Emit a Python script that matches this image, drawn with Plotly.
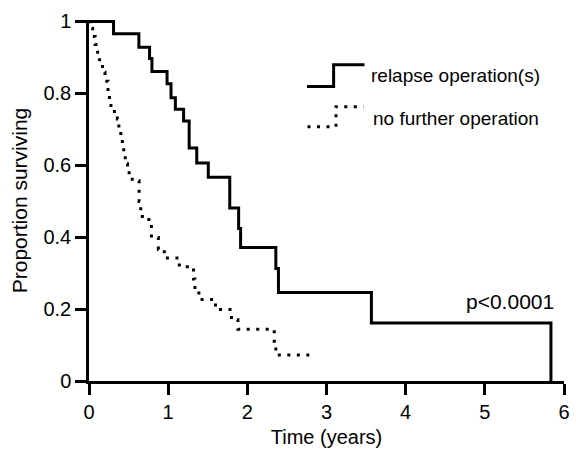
import plotly.graph_objects as go

# ---- data ----
relapse_time = [0, 0.31, 0.63, 0.765, 0.795, 0.986, 1.036, 1.091, 1.195, 1.265,
                1.361, 1.507, 1.778, 1.89, 1.915, 2.36, 2.393, 3.567, 5.835]
relapse_surv = [1.0, 0.966, 0.928, 0.897, 0.861, 0.827, 0.788, 0.756, 0.723, 0.648,
                0.606, 0.567, 0.481, 0.424, 0.371, 0.313, 0.246, 0.161, 0.0]

nofurther_time = [0, 0.015, 0.046, 0.077, 0.109, 0.134, 0.171, 0.202, 0.240, 0.258,
                  0.277, 0.321, 0.358, 0.377, 0.402, 0.421, 0.439, 0.458, 0.487, 0.546,
                  0.633, 0.654, 0.674, 0.789, 0.876, 0.951, 1.141, 1.320, 1.338, 1.388,
                  1.598, 1.800, 1.881, 2.340, 2.360, 2.784]
nofurther_surv = [1.0, 0.981, 0.958, 0.936, 0.914, 0.886, 0.859, 0.834, 0.803, 0.781,
                  0.759, 0.745, 0.729, 0.704, 0.679, 0.654, 0.626, 0.604, 0.579, 0.557,
                  0.499, 0.472, 0.449, 0.399, 0.366, 0.342, 0.318, 0.284, 0.255, 0.227,
                  0.199, 0.170, 0.144, 0.094, 0.072, 0.072]

x_ticks = [0, 1, 2, 3, 4, 5, 6]
y_ticks = [0, 0.2, 0.4, 0.6, 0.8, 1]
y_ticktext = ["0", "0.2", "0.4", "0.6", "0.8", "1"]

series_names = ["relapse operation(s)", "no further operation"]
p_text = "p<0.0001"

FONT = "Liberation Sans, Arial, Helvetica, sans-serif"
DOT = "3px,6.5px"

fig = go.Figure()
fig.add_trace(go.Scatter(x=relapse_time, y=relapse_surv, mode="lines",
                         line=dict(shape="hv", color="black", width=3),
                         name=series_names[0], showlegend=False, cliponaxis=False))
fig.add_trace(go.Scatter(x=nofurther_time, y=nofurther_surv, mode="lines",
                         line=dict(shape="hv", color="black", width=3, dash=DOT),
                         name=series_names[1], showlegend=False, cliponaxis=False))

axis_common = dict(showline=True, linecolor="black", linewidth=2.5, ticks="outside",
                   ticklen=11, tickwidth=2.5, tickcolor="black", showgrid=False,
                   zeroline=False, tickfont=dict(family=FONT, size=20, color="black"))

fig.update_layout(
    width=576, height=452,
    margin=dict(l=89, r=6, t=20, b=70),
    paper_bgcolor="white", plot_bgcolor="white",
    font=dict(family=FONT, color="black"),
    xaxis=dict(range=[0, 6], tickvals=x_ticks, **axis_common,
               title=dict(text="Time (years)", font=dict(family=FONT, size=20), standoff=9)),
    yaxis=dict(range=[0, 1.004], tickvals=y_ticks, ticktext=y_ticktext, **axis_common,
               title=dict(text="Proportion surviving", font=dict(family=FONT, size=21), standoff=11)),
)

# legend drawn by hand (step glyphs)
fig.add_shape(type="path", xref="paper", yref="paper",
              path="M 0.459,0.816 L 0.515,0.816 L 0.515,0.876 L 0.580,0.876",
              line=dict(color="black", width=3))
fig.add_shape(type="path", xref="paper", yref="paper",
              path="M 0.460,0.704 L 0.520,0.704 L 0.520,0.760 L 0.578,0.760",
              line=dict(color="black", width=3, dash=DOT))
fig.add_annotation(x=0.589, y=0.846, xref="paper", yref="paper", text=series_names[0],
                   showarrow=False, xanchor="left", yanchor="middle",
                   font=dict(family=FONT, size=19, color="black"))
fig.add_annotation(x=0.593, y=0.727, xref="paper", yref="paper", text=series_names[1],
                   showarrow=False, xanchor="left", yanchor="middle",
                   font=dict(family=FONT, size=19, color="black"))
fig.add_annotation(x=5.9, y=0.222, xref="x", yref="y", text=p_text,
                   showarrow=False, xanchor="right", yanchor="middle",
                   font=dict(family=FONT, size=21, color="black"))

fig.write_html("out.html")
